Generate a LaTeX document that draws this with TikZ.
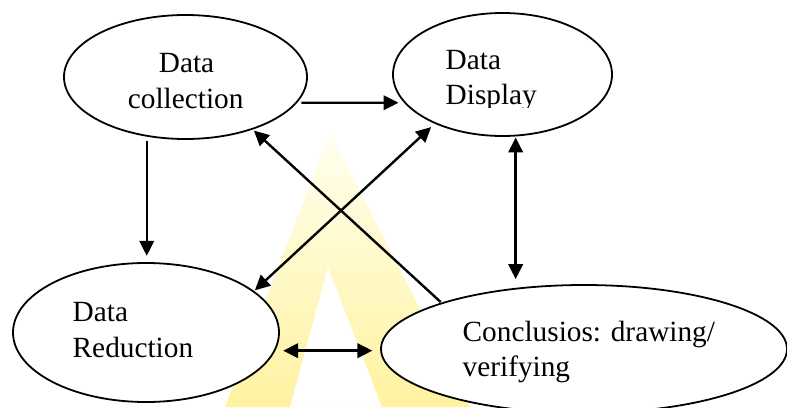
\documentclass[tikz,border=0pt]{standalone}
\usepackage{fontspec}
\setmainfont{Liberation Serif}
\usetikzlibrary{arrows.meta,shapes.geometric}
\definecolor{wmtop}{RGB}{255,255,240}
\definecolor{wmbot}{RGB}{255,242,160}
\begin{document}
\begin{tikzpicture}[x=1pt,y=-1pt,
  bubble/.style={ellipse, draw, line width=1.8pt, fill=white, inner sep=0pt},
  lbl/.style={inner sep=0pt, font=\fontsize{29.3}{35}\selectfont},
  conn/.style={line width=2.4pt, -{Triangle[length=15pt,width=14.5pt]}},
  biconn/.style={line width=2.4pt, {Triangle[length=15pt,width=14.5pt]}-{Triangle[length=15pt,width=14.5pt]}},
]
\useasboundingbox (0,0) rectangle (787,407);
% faint watermark
\shade[even odd rule, top color=wmtop, bottom color=wmbot]
  (330,132) -- (225,407) -- (470,407) -- cycle
  (328,267) -- (290,407) -- (382,407) -- cycle;
% ellipses
\node[bubble, minimum width=243pt, minimum height=124pt] (col) at (185.5,77) {};
\node[bubble, minimum width=219pt, minimum height=123pt] (disp) at (502.5,74.5) {};
\node[bubble, minimum width=266pt, minimum height=139pt] (red) at (146,332.5) {};
\node[bubble, minimum width=406pt, minimum height=128pt] (conc) at (584,349) {};
% labels
\node[lbl, anchor=base] (colA) at (186.5,72) {Data};
\node[lbl, anchor=base] (colB) at (185.7,108) {collection};
\begin{scope}
  \clip (380,0) rectangle (620,107.5);
  \node[lbl, anchor=base west] (dispA) at (445.5,69) {Data};
  \node[lbl, anchor=base west] (dispB) at (445.5,104) {Display};
\end{scope}
\node[lbl, anchor=base west] (redA) at (72.5,321.7) {Data};
\node[lbl, anchor=base west] (redB) at (72.5,357) {Reduction};
\node[lbl, anchor=base west] (concA) at (462.5,341.7) {Conclusios: drawing/};
\node[lbl, anchor=base west] (concB) at (462.5,376.7) {verifying};
% connectors
\draw[conn, shorten <=4.2pt, shorten >=5.5pt] (col.-13.26) -- (disp.196.37);
\draw[conn, shorten <=4pt, shorten >=6.3pt] (col.-123.4) -- (col.-123.4 |- red.north);
\draw[conn, shorten <=1pt, shorten >=1.5pt] (conc.162.66) -- (col.-38.1);
\draw[biconn, shorten <=4.9pt, shorten >=1pt] (disp.216.9) -- (red.21.7);
\draw[biconn, shorten <=1pt, shorten >=5pt] (disp.-78.4) -- (disp.-78.4 |- conc.north);
\draw[biconn, shorten <=7.8pt, shorten >=7.7pt] (red.-8.5) -- (red.-8.5 -| conc.west);
\end{tikzpicture}
\end{document}
